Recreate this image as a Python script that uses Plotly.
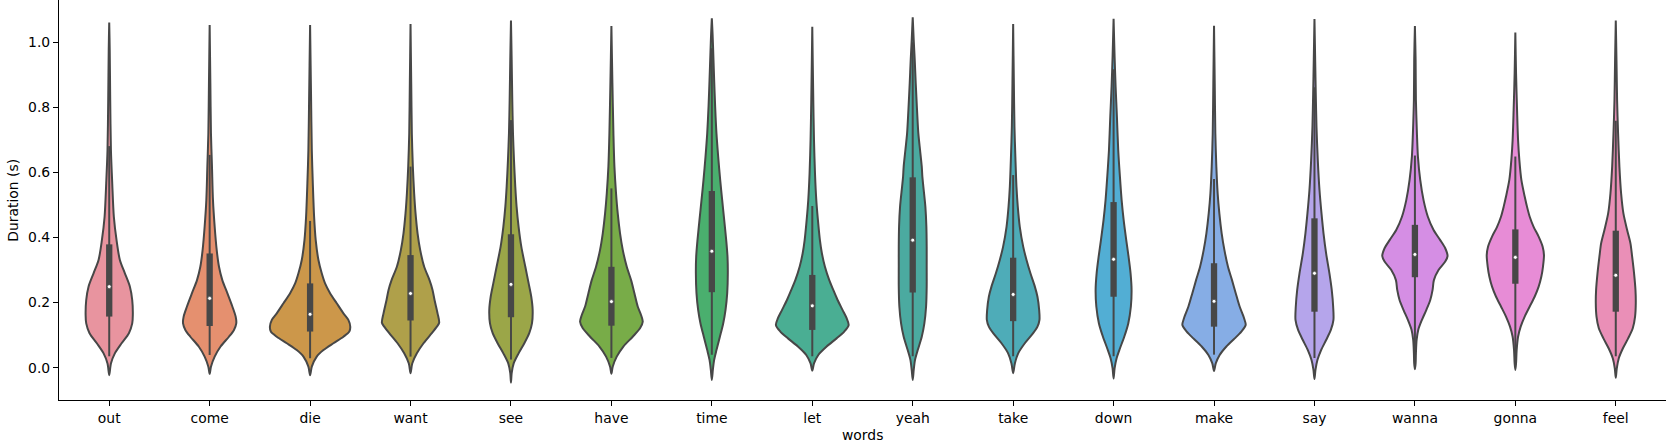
import plotly.graph_objects as go

words = ["out", "come", "die", "want", "see", "have", "time", "let",
         "yeah", "take", "down", "make", "say", "wanna", "gonna", "feel"]

# kde outline of each violin: duration (s) and half width (category units)
out_y = [-0.023, 0.013, 0.044, 0.075, 0.106, 0.136, 0.162, 0.208, 0.249, 0.290, 0.331, 0.392, 0.464, 0.567, 0.669, 0.823, 0.977, 1.061]
out_w = [0, .017, .056, .123, .196, .229, .235, .229, .206, .156, .106, .073, .046, .030, .017, .010, .005, 0]
come_y = [-0.019, 0.003, 0.034, 0.065, 0.095, 0.116, 0.136, 0.157, 0.188, 0.229, 0.269, 0.310, 0.362, 0.433, 0.515, 0.618, 0.720, 0.874, 1.053]
come_w = [0, .013, .050, .109, .192, .242, .265, .259, .226, .176, .126, .093, .070, .050, .033, .023, .013, .007, 0]
die_y = [-0.023, 0.003, 0.034, 0.054, 0.075, 0.095, 0.111, 0.126, 0.147, 0.167, 0.198, 0.229, 0.259, 0.290, 0.331, 0.392, 0.464, 0.567, 0.669, 0.823, 1.053]
die_w = [0, .017, .066, .133, .232, .332, .391, .400, .381, .332, .265, .199, .149, .116, .083, .056, .040, .027, .017, .010, 0]
want_y = [-0.017, 0.013, 0.044, 0.075, 0.106, 0.126, 0.138, 0.167, 0.208, 0.239, 0.269, 0.310, 0.362, 0.413, 0.474, 0.536, 0.618, 0.720, 0.874, 1.056]
want_w = [0, .017, .063, .129, .212, .262, .285, .269, .239, .219, .189, .136, .096, .070, .050, .036, .023, .013, .007, 0]
see_y = [-0.046, -0.017, 0.013, 0.044, 0.075, 0.106, 0.136, 0.177, 0.218, 0.259, 0.310, 0.372, 0.433, 0.495, 0.556, 0.638, 0.720, 0.823, 0.946, 1.067]
see_w = [0, .007, .027, .076, .133, .182, .209, .216, .202, .176, .143, .103, .076, .056, .043, .030, .020, .013, .007, 0]
have_y = [-0.019, 0.003, 0.034, 0.065, 0.095, 0.121, 0.141, 0.162, 0.188, 0.229, 0.269, 0.310, 0.362, 0.413, 0.474, 0.536, 0.618, 0.720, 0.874, 1.050]
have_w = [0, .013, .053, .119, .212, .285, .312, .295, .262, .229, .196, .153, .113, .086, .063, .046, .030, .020, .010, 0]
time_y = [-0.038, -0.007, 0.024, 0.054, 0.095, 0.136, 0.177, 0.229, 0.290, 0.341, 0.392, 0.454, 0.515, 0.577, 0.649, 0.720, 0.802, 0.884, 0.977, 1.028, 1.074]
time_w = [0, .010, .023, .046, .080, .113, .136, .153, .159, .156, .143, .123, .103, .083, .063, .046, .033, .023, .013, .007, 0]
let_y = [-0.009, 0.013, 0.039, 0.065, 0.090, 0.111, 0.131, 0.152, 0.177, 0.208, 0.239, 0.269, 0.310, 0.351, 0.392, 0.454, 0.515, 0.597, 0.700, 0.823, 1.048]
let_w = [0, .017, .060, .143, .242, .318, .362, .342, .302, .252, .209, .169, .126, .096, .076, .056, .040, .027, .017, .010, 0]
yeah_y = [-0.038, -0.007, 0.024, 0.054, 0.095, 0.136, 0.188, 0.249, 0.310, 0.372, 0.433, 0.495, 0.556, 0.587, 0.618, 0.669, 0.720, 0.792, 0.874, 0.946, 1.007, 1.077]
yeah_w = [0, .010, .023, .050, .090, .116, .133, .139, .139, .139, .136, .126, .106, .096, .090, .073, .056, .043, .030, .020, .010, 0]
take_y = [-0.017, 0.013, 0.044, 0.075, 0.106, 0.126, 0.147, 0.177, 0.218, 0.249, 0.290, 0.331, 0.372, 0.433, 0.495, 0.556, 0.638, 0.741, 0.874, 1.056]
take_w = [0, .017, .050, .116, .199, .242, .262, .259, .242, .216, .172, .133, .100, .066, .046, .033, .023, .013, .007, 0]
down_y = [-0.033, -0.002, 0.029, 0.059, 0.095, 0.136, 0.188, 0.239, 0.290, 0.341, 0.392, 0.454, 0.515, 0.587, 0.669, 0.772, 0.864, 0.956, 1.072]
down_w = [0, .010, .030, .063, .106, .146, .172, .179, .169, .149, .126, .100, .080, .063, .046, .033, .020, .010, 0]
make_y = [-0.010, 0.013, 0.039, 0.065, 0.090, 0.111, 0.131, 0.152, 0.188, 0.229, 0.269, 0.310, 0.362, 0.413, 0.474, 0.536, 0.618, 0.720, 0.874, 1.051]
make_w = [0, .017, .056, .123, .206, .272, .315, .299, .255, .216, .179, .139, .103, .076, .053, .036, .023, .013, .007, 0]
say_y = [-0.035, -0.007, 0.024, 0.054, 0.085, 0.116, 0.147, 0.188, 0.239, 0.290, 0.351, 0.413, 0.474, 0.546, 0.638, 0.741, 0.843, 0.946, 1.072]
say_w = [0, .010, .030, .066, .116, .163, .189, .186, .172, .149, .116, .090, .070, .050, .033, .020, .013, .007, 0]
wanna_y = [-0.005, 0.013, 0.044, 0.085, 0.116, 0.147, 0.177, 0.208, 0.239, 0.269, 0.300, 0.326, 0.343, 0.367, 0.392, 0.423, 0.464, 0.515, 0.577, 0.649, 0.720, 0.823, 0.946, 1.050]
wanna_w = [0, .007, .010, .017, .033, .070, .113, .153, .176, .189, .235, .302, .325, .302, .252, .186, .129, .086, .053, .030, .020, .010, .007, 0]
gonna_y = [-0.007, 0.013, 0.054, 0.095, 0.126, 0.157, 0.188, 0.218, 0.249, 0.280, 0.310, 0.346, 0.372, 0.403, 0.433, 0.464, 0.495, 0.526, 0.577, 0.638, 0.700, 0.792, 0.905, 1.030]
gonna_w = [0, .007, .013, .027, .053, .093, .143, .192, .232, .259, .275, .285, .272, .232, .182, .143, .116, .093, .060, .040, .027, .017, .007, 0]
feel_y = [-0.031, -0.002, 0.029, 0.059, 0.090, 0.121, 0.157, 0.198, 0.239, 0.290, 0.341, 0.382, 0.423, 0.474, 0.536, 0.618, 0.720, 0.823, 0.946, 1.067]
feel_w = [0, .010, .030, .070, .123, .169, .192, .199, .196, .182, .163, .146, .113, .076, .053, .036, .023, .013, .007, 0]

# inner box stats
q1 = [0.157, 0.128, 0.111, 0.145, 0.155, 0.129, 0.232, 0.116, 0.231, 0.143, 0.218, 0.126, 0.172, 0.278, 0.258, 0.172]
median = [0.249, 0.213, 0.164, 0.228, 0.256, 0.203, 0.358, 0.190, 0.392, 0.225, 0.333, 0.204, 0.290, 0.348, 0.339, 0.284]
q3 = [0.379, 0.351, 0.259, 0.346, 0.410, 0.310, 0.543, 0.285, 0.585, 0.338, 0.509, 0.321, 0.459, 0.439, 0.425, 0.421]
whisk_lo = [0.035, 0.039, 0.029, 0.034, 0.025, 0.030, 0.040, 0.035, 0.035, 0.035, 0.035, 0.040, 0.030, 0.040, 0.030, 0.035]
whisk_hi = [0.681, 0.654, 0.451, 0.618, 0.761, 0.551, 0.982, 0.497, 1.000, 0.592, 0.917, 0.580, 0.862, 0.652, 0.649, 0.759]

profiles = {
    "out": (out_y, out_w), "come": (come_y, come_w), "die": (die_y, die_w),
    "want": (want_y, want_w), "see": (see_y, see_w), "have": (have_y, have_w),
    "time": (time_y, time_w), "let": (let_y, let_w), "yeah": (yeah_y, yeah_w),
    "take": (take_y, take_w), "down": (down_y, down_w), "make": (make_y, make_w),
    "say": (say_y, say_w), "wanna": (wanna_y, wanna_w), "gonna": (gonna_y, gonna_w),
    "feel": (feel_y, feel_w),
}

colors = ["#E8949F", "#E5906F", "#CC974A", "#AFA04A", "#9BA648", "#78AC48",
          "#4AAF6E", "#4AAE93", "#4BAAA0", "#4EACB8", "#52AED4", "#86ADE5",
          "#B5A5EB", "#D58EE4", "#E78CD6", "#EA8FB7"]
gray = "#474747"
font = "DejaVu Sans"

fig = go.Figure()

for i, word in enumerate(words):
    ys, ws = profiles[word]
    xs = [i + w for w in ws] + [i - w for w in reversed(ws)]
    yy = list(ys) + list(reversed(ys))
    fig.add_trace(go.Scatter(
        x=xs, y=yy, mode="lines", fill="toself",
        fillcolor=colors[i],
        line=dict(color=gray, width=2, shape="spline", smoothing=0.8),
        hoverinfo="skip", showlegend=False
    ))

wx, wy, bx, by = [], [], [], []
for i in range(len(words)):
    wx += [i, i, None]
    wy += [whisk_lo[i], whisk_hi[i], None]
    bx += [i, i, None]
    by += [q1[i], q3[i], None]

fig.add_trace(go.Scatter(x=wx, y=wy, mode="lines",
                         line=dict(color=gray, width=2), showlegend=False))
fig.add_trace(go.Scatter(x=bx, y=by, mode="lines",
                         line=dict(color=gray, width=6.3), showlegend=False))
fig.add_trace(go.Scatter(
    x=list(range(len(words))), y=median, mode="markers",
    marker=dict(color="white", size=4, line=dict(color=gray, width=0.8)),
    showlegend=False
))

fig.update_layout(
    width=1668, height=445,
    margin=dict(l=59, r=2, t=0, b=45),
    plot_bgcolor="white", paper_bgcolor="white",
    font=dict(family=font, size=13.9, color="black"),
    xaxis=dict(
        range=[-0.5, 15.5], tickmode="array",
        tickvals=list(range(len(words))), ticktext=words,
        showgrid=False, zeroline=False,
        showline=True, linecolor="black", linewidth=1.1,
        ticks="outside", ticklen=5, tickwidth=1.1, tickcolor="black",
    ),
    yaxis=dict(
        range=[-0.0994, 1.1301], tickmode="array",
        tickvals=[0, 0.2, 0.4, 0.6, 0.8, 1.0],
        ticktext=["0.0", "0.2", "0.4", "0.6", "0.8", "1.0"],
        showgrid=False, zeroline=False,
        showline=True, linecolor="black", linewidth=1.1,
        ticks="outside", ticklen=5, tickwidth=1.1, tickcolor="black",
    ),
    annotations=[
        dict(text="words", xref="paper", yref="paper", x=0.5, y=-0.0875,
             xanchor="center", yanchor="middle", showarrow=False,
             font=dict(family=font, size=13.9, color="black")),
        dict(text="Duration (s)", xref="paper", yref="paper", x=-0.0288, y=0.5,
             xanchor="center", yanchor="middle", textangle=-90, showarrow=False,
             font=dict(family=font, size=13.9, color="black")),
    ],
)

# page body has a default 8px margin; drop it so the figure fills the window
fig.write_html("out.html", config={"displayModeBar": False},
               post_script="document.body.style.margin='0';")
